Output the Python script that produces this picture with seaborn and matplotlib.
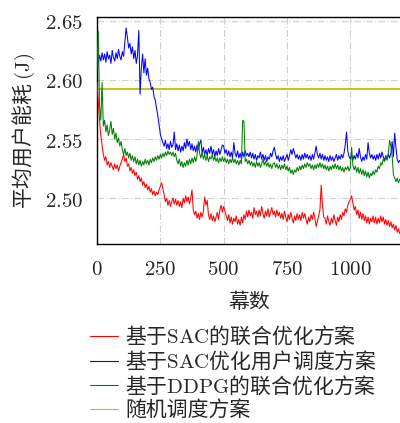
import numpy as np
import pandas as pd
import matplotlib
matplotlib.use("Agg")
import matplotlib.pyplot as plt
from matplotlib.ticker import FuncFormatter
import seaborn as sns

# ---------------- data (every 5 episodes) ----------------
episodes = list(range(0, 1201, 5))

sac_joint = [
    2.598, 2.582, 2.566, 2.553, 2.545, 2.537, 2.532, 2.535, 2.528, 2.531, 2.526, 2.530, 2.527, 2.524, 2.529, 2.525, 2.528, 2.523, 2.527, 2.530,
    2.533, 2.537, 2.531, 2.534, 2.527, 2.529, 2.523, 2.526, 2.521, 2.524, 2.519, 2.522, 2.516, 2.519, 2.514, 2.517, 2.511, 2.514, 2.509, 2.512,
    2.507, 2.510, 2.505, 2.508, 2.503, 2.506, 2.502, 2.505, 2.503, 2.507, 2.510, 2.513, 2.508, 2.503, 2.497, 2.500, 2.494, 2.498, 2.493, 2.497,
    2.500, 2.495, 2.499, 2.494, 2.498, 2.493, 2.497, 2.492, 2.500, 2.496, 2.502, 2.497, 2.501, 2.495, 2.500, 2.507, 2.490, 2.486, 2.489, 2.483,
    2.487, 2.482, 2.488, 2.484, 2.489, 2.501, 2.494, 2.498, 2.486, 2.482, 2.487, 2.481, 2.485, 2.480, 2.484, 2.488, 2.482, 2.490, 2.494, 2.488,
    2.493, 2.489, 2.485, 2.481, 2.486, 2.479, 2.484, 2.478, 2.483, 2.480, 2.485, 2.478, 2.482, 2.477, 2.484, 2.479, 2.486, 2.482, 2.489, 2.484,
    2.490, 2.485, 2.488, 2.483, 2.492, 2.486, 2.489, 2.484, 2.490, 2.485, 2.493, 2.487, 2.483, 2.489, 2.485, 2.491, 2.484, 2.488, 2.492, 2.486,
    2.489, 2.484, 2.490, 2.485, 2.488, 2.483, 2.487, 2.482, 2.489, 2.484, 2.480, 2.486, 2.482, 2.488, 2.483, 2.479, 2.485, 2.481, 2.487, 2.482,
    2.486, 2.481, 2.488, 2.483, 2.487, 2.482, 2.478, 2.484, 2.480, 2.486, 2.482, 2.488, 2.483, 2.476, 2.480, 2.485, 2.490, 2.511, 2.494, 2.484,
    2.483, 2.478, 2.485, 2.480, 2.477, 2.483, 2.479, 2.486, 2.481, 2.477, 2.484, 2.480, 2.486, 2.482, 2.488, 2.485, 2.491, 2.488, 2.494, 2.497,
    2.499, 2.502, 2.496, 2.490, 2.493, 2.486, 2.490, 2.483, 2.488, 2.482, 2.487, 2.481, 2.485, 2.479, 2.484, 2.478, 2.483, 2.480, 2.485, 2.479,
    2.484, 2.478, 2.483, 2.479, 2.485, 2.480, 2.484, 2.478, 2.482, 2.477, 2.481, 2.476, 2.480, 2.475, 2.478, 2.473, 2.477, 2.471, 2.474, 2.470,
    2.472,
]

sac_schedule = [
    2.607, 2.615, 2.621, 2.616, 2.623, 2.617, 2.622, 2.615, 2.624, 2.618, 2.621, 2.614, 2.625, 2.619, 2.616, 2.623, 2.618, 2.626, 2.620, 2.617,
    2.624, 2.620, 2.632, 2.644, 2.636, 2.627, 2.631, 2.622, 2.628, 2.618, 2.625, 2.614, 2.621, 2.642, 2.588, 2.610, 2.622, 2.606, 2.618, 2.604,
    2.610, 2.601, 2.598, 2.592, 2.594, 2.586, 2.583, 2.576, 2.570, 2.562, 2.554, 2.550, 2.547, 2.544, 2.549, 2.542, 2.546, 2.541, 2.548, 2.543,
    2.545, 2.556, 2.541, 2.546, 2.540, 2.545, 2.539, 2.544, 2.540, 2.547, 2.542, 2.550, 2.544, 2.548, 2.541, 2.546, 2.540, 2.544, 2.539, 2.545,
    2.541, 2.546, 2.549, 2.538, 2.543, 2.537, 2.541, 2.536, 2.542, 2.538, 2.544, 2.537, 2.541, 2.535, 2.540, 2.536, 2.542, 2.537, 2.541, 2.545,
    2.544, 2.538, 2.541, 2.536, 2.540, 2.535, 2.539, 2.534, 2.547, 2.538, 2.535, 2.540, 2.534, 2.538, 2.533, 2.539, 2.535, 2.540, 2.536, 2.538,
    2.535, 2.539, 2.534, 2.538, 2.533, 2.537, 2.532, 2.536, 2.534, 2.539, 2.533, 2.537, 2.532, 2.536, 2.531, 2.535, 2.533, 2.538, 2.535, 2.540,
    2.543, 2.537, 2.533, 2.536, 2.531, 2.535, 2.532, 2.536, 2.531, 2.534, 2.537, 2.532, 2.536, 2.541, 2.537, 2.542, 2.538, 2.534, 2.537, 2.533,
    2.536, 2.532, 2.537, 2.533, 2.538, 2.534, 2.537, 2.533, 2.536, 2.532, 2.537, 2.533, 2.538, 2.544, 2.537, 2.534, 2.538, 2.533, 2.537, 2.532,
    2.536, 2.532, 2.535, 2.531, 2.536, 2.532, 2.535, 2.531, 2.534, 2.537, 2.532, 2.536, 2.533, 2.537, 2.534, 2.538, 2.545, 2.556, 2.540, 2.535,
    2.533, 2.537, 2.532, 2.536, 2.533, 2.538, 2.534, 2.542, 2.535, 2.531, 2.535, 2.532, 2.537, 2.533, 2.547, 2.538, 2.534, 2.537, 2.533, 2.536,
    2.532, 2.537, 2.533, 2.538, 2.534, 2.539, 2.535, 2.532, 2.536, 2.533, 2.537, 2.534, 2.538, 2.548, 2.535, 2.555, 2.543, 2.533, 2.530, 2.532,
    2.531,
]

ddpg_joint = [
    2.612, 2.641, 2.578, 2.566, 2.598, 2.561, 2.566, 2.556, 2.562, 2.553, 2.558, 2.565, 2.554, 2.559, 2.550, 2.555, 2.547, 2.551, 2.544, 2.548,
    2.541, 2.537, 2.542, 2.536, 2.539, 2.534, 2.538, 2.532, 2.536, 2.531, 2.535, 2.529, 2.533, 2.528, 2.532, 2.527, 2.531, 2.528, 2.533, 2.529,
    2.532, 2.528, 2.533, 2.530, 2.534, 2.531, 2.535, 2.532, 2.536, 2.533, 2.537, 2.534, 2.538, 2.535, 2.539, 2.536, 2.540, 2.537, 2.539, 2.536,
    2.539, 2.535, 2.538, 2.532, 2.529, 2.533, 2.527, 2.531, 2.526, 2.530, 2.527, 2.532, 2.528, 2.533, 2.529, 2.534, 2.530, 2.535, 2.531, 2.536,
    2.548, 2.538, 2.534, 2.539, 2.533, 2.537, 2.532, 2.536, 2.531, 2.535, 2.533, 2.537, 2.532, 2.535, 2.531, 2.534, 2.530, 2.534, 2.531, 2.535,
    2.531, 2.534, 2.530, 2.533, 2.529, 2.533, 2.530, 2.534, 2.530, 2.533, 2.529, 2.532, 2.528, 2.532, 2.529, 2.566, 2.565, 2.531, 2.533, 2.529,
    2.532, 2.528, 2.531, 2.527, 2.530, 2.526, 2.531, 2.527, 2.530, 2.526, 2.529, 2.533, 2.528, 2.531, 2.527, 2.530, 2.526, 2.529, 2.525, 2.529,
    2.530, 2.526, 2.529, 2.525, 2.528, 2.524, 2.528, 2.525, 2.529, 2.524, 2.527, 2.523, 2.526, 2.521, 2.524, 2.520, 2.524, 2.522, 2.526, 2.523,
    2.527, 2.524, 2.528, 2.525, 2.529, 2.526, 2.530, 2.527, 2.529, 2.525, 2.528, 2.524, 2.528, 2.525, 2.529, 2.526, 2.530, 2.526, 2.529, 2.525,
    2.528, 2.524, 2.527, 2.523, 2.527, 2.524, 2.528, 2.525, 2.529, 2.525, 2.528, 2.524, 2.527, 2.523, 2.526, 2.522, 2.526, 2.524, 2.527, 2.523,
    2.526, 2.543, 2.528, 2.524, 2.527, 2.522, 2.526, 2.521, 2.525, 2.520, 2.524, 2.519, 2.523, 2.518, 2.522, 2.517, 2.521, 2.519, 2.523, 2.520,
    2.524, 2.522, 2.527, 2.525, 2.530, 2.528, 2.533, 2.531, 2.535, 2.532, 2.538, 2.549, 2.544, 2.536, 2.520, 2.517, 2.514, 2.517, 2.513, 2.516,
    2.515,
]

random_level = 2.592
random_sched = [random_level] * len(episodes)

labels = [
    r"基于$\mathrm{SAC}$的联合优化方案",
    r"基于$\mathrm{SAC}$优化用户调度方案",
    r"基于$\mathrm{DDPG}$的联合优化方案",
    r"随机调度方案",
]
colors = ["#ff0000", "#0000ff", "#008000", "#bfbf00"]
xticks = [0, 250, 500, 750, 1000]
yticks = [2.50, 2.55, 2.60, 2.65]
xlabel = "幕数"
ylabel = r"平均用户能耗 $(\mathrm{J})$"

# ---------------- style ----------------
sns.set_theme(style="white")
plt.rcParams["font.family"] = ["Noto Sans CJK SC", "DejaVu Serif"]
plt.rcParams["mathtext.fontset"] = "cm"
plt.rcParams["axes.unicode_minus"] = False

df = pd.concat([
    pd.DataFrame({"episode": episodes, "value": s, "scheme": lab})
    for s, lab in zip([sac_joint, sac_schedule, ddpg_joint, random_sched], labels)
], ignore_index=True)

fig = plt.figure(figsize=(4.0, 4.23), dpi=100)
ax = fig.add_axes([0.2425, 0.4232, 0.7600, 0.5366])

for lab, col in zip(labels, colors):
    sub = df[df["scheme"] == lab]
    lw = 1.3 if lab == labels[3] else 0.75
    sns.lineplot(data=sub, x="episode", y="value", color=col, linewidth=lw,
                 ax=ax, label=lab, legend=False, zorder=3 if lab != labels[3] else 2)

ax.set_xlim(0, 1200)
ax.set_ylim(2.4612, 2.6533)
ax.set_xticks(xticks)
ax.set_yticks(yticks)
ax.xaxis.set_major_formatter(FuncFormatter(lambda v, p: f"${int(round(v))}$"))
ax.yaxis.set_major_formatter(FuncFormatter(lambda v, p: f"${v:.2f}$"))
ax.tick_params(axis="both", direction="in", length=3.5, width=1.0, color="#333333",
               labelsize=15)
ax.tick_params(axis="x", pad=10)
ax.tick_params(axis="y", pad=10)
ax.grid(True, color="#cfcfcf", linestyle=(0, (6, 2, 1, 2)), linewidth=0.8, zorder=0)
ax.set_axisbelow(True)
for side in ["left", "top", "bottom"]:
    ax.spines[side].set_color("black")
    ax.spines[side].set_linewidth(1.0)
ax.spines["right"].set_visible(False)

ax.set_xlabel(xlabel, fontsize=15, labelpad=8)
ax.set_ylabel(ylabel, fontsize=15, labelpad=6)

handles = [plt.Line2D([], [], color=c, linewidth=0.8) for c in colors]
fig.legend(handles, labels, loc="upper left", bbox_to_anchor=(0.225, 0.232),
           frameon=False, fontsize=15, handlelength=1.35, handletextpad=0.35,
           labelspacing=0.06, borderpad=0, borderaxespad=0)

fig.savefig("out.png", dpi=100)
